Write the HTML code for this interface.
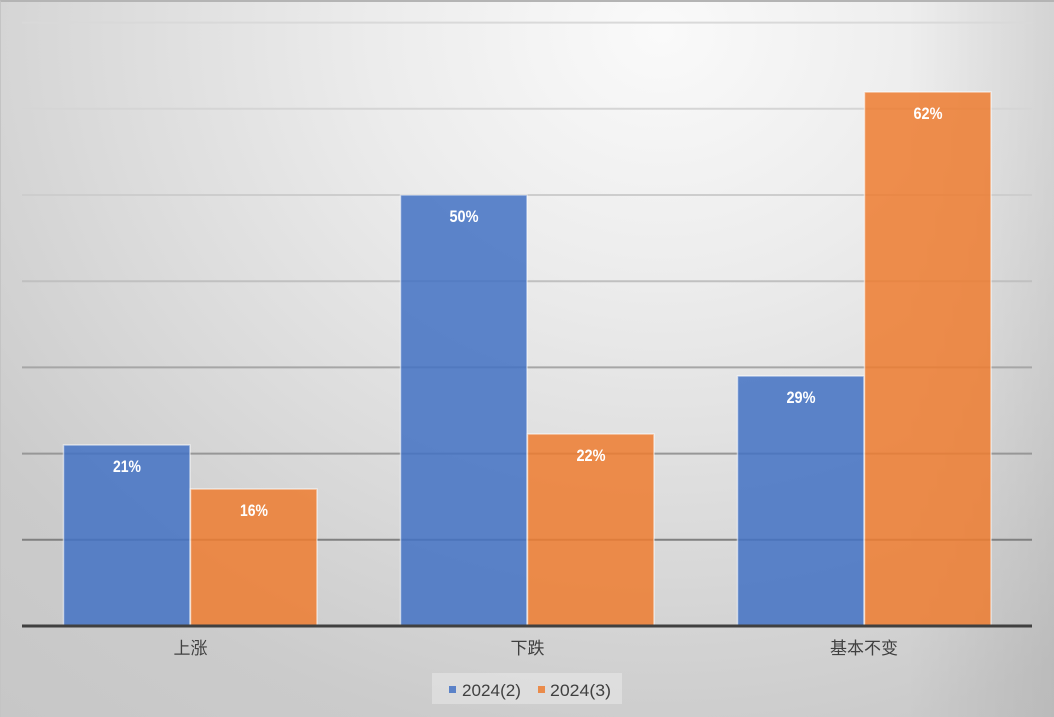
<!DOCTYPE html>
<html>
<head>
<meta charset="utf-8">
<style>
  html, body { margin:0; padding:0; }
  body { width:1054px; height:717px; overflow:hidden; }
  .chart {
    position:relative; width:1054px; height:717px; box-sizing:border-box;
    border-top:2px solid #b4b4b4; border-left:1px solid #c4c4c4;
    background:
      linear-gradient(to right, rgba(0,0,0,0) 86%, rgba(0,0,0,0.08) 100%),
      radial-gradient(ellipse 820px 720px at 660px 30px, #fafafa 0%, #ececec 35%, #dddddd 65%, #cbcbcb 100%, #c6c6c6 130%);
    background-color:#c8c8c8;
  }
  svg { position:absolute; left:-1px; top:-2px; }
  text { font-family:"Liberation Sans","Noto Sans CJK SC",sans-serif; }
</style>
</head>
<body>
<div class="chart">
<svg width="1054" height="717" viewBox="0 0 1054 717" xmlns="http://www.w3.org/2000/svg">
  <!-- gridlines -->
  <g stroke-width="2">
    <line x1="22" x2="1032" y1="22.6" y2="22.6" stroke="#d9d9d9"/>
    <line x1="22" x2="1032" y1="108.8" y2="108.8" stroke="#d5d5d5"/>
    <line x1="22" x2="1032" y1="195" y2="195" stroke="#cdcdcd"/>
    <line x1="22" x2="1032" y1="281.2" y2="281.2" stroke="#c0c0c0"/>
    <line x1="22" x2="1032" y1="367.4" y2="367.4" stroke="#a6a6a6"/>
    <line x1="22" x2="1032" y1="453.6" y2="453.6" stroke="#979797"/>
    <line x1="22" x2="1032" y1="539.8" y2="539.8" stroke="#808080"/>
  </g>
  <!-- bars -->
  <g stroke="rgba(255,255,255,0.55)" stroke-width="1.5">
    <rect x="63.5" y="445" width="126.5" height="181" fill="#4472C4" fill-opacity="0.86"/>
    <rect x="190.5" y="489" width="126.5" height="137" fill="#ED7D31" fill-opacity="0.86"/>
    <rect x="400.5" y="195" width="126.5" height="431" fill="#4472C4" fill-opacity="0.86"/>
    <rect x="527.5" y="434" width="126.5" height="192" fill="#ED7D31" fill-opacity="0.86"/>
    <rect x="737.5" y="376" width="126.5" height="250" fill="#4472C4" fill-opacity="0.86"/>
    <rect x="864.5" y="92" width="126.5" height="534" fill="#ED7D31" fill-opacity="0.86"/>
  </g>
  <!-- axis -->
  <line x1="22" x2="1032" y1="626" y2="626" stroke="#404040" stroke-width="3"/>
  <!-- data labels -->
  <g fill="#ffffff" font-weight="bold" font-size="17" text-anchor="middle">
    <text x="127" y="472" textLength="28" lengthAdjust="spacingAndGlyphs">21%</text>
    <text x="254" y="516" textLength="28" lengthAdjust="spacingAndGlyphs">16%</text>
    <text x="464" y="222" textLength="29" lengthAdjust="spacingAndGlyphs">50%</text>
    <text x="591" y="461" textLength="29" lengthAdjust="spacingAndGlyphs">22%</text>
    <text x="801" y="403" textLength="29" lengthAdjust="spacingAndGlyphs">29%</text>
    <text x="928" y="119" textLength="29" lengthAdjust="spacingAndGlyphs">62%</text>
  </g>
  <!-- category labels -->
  <g fill="#404040" font-size="17" text-anchor="middle">
    <text x="190.5" y="654">上涨</text>
    <text x="527.5" y="654">下跌</text>
    <text x="864" y="654">基本不变</text>
  </g>
  <!-- legend -->
  <rect x="432" y="673" width="190" height="31" fill="#ffffff" fill-opacity="0.3"/>
  <rect x="449" y="686" width="7" height="7" fill="#5b82c8"/>
  <rect x="538" y="686" width="7" height="7" fill="#ea8b4b"/>
  <g fill="#404040" font-size="17">
    <text x="462" y="696" textLength="59" lengthAdjust="spacingAndGlyphs">2024(2)</text>
    <text x="550" y="696" textLength="61" lengthAdjust="spacingAndGlyphs">2024(3)</text>
  </g>
</svg>
</div>
</body>
</html>
